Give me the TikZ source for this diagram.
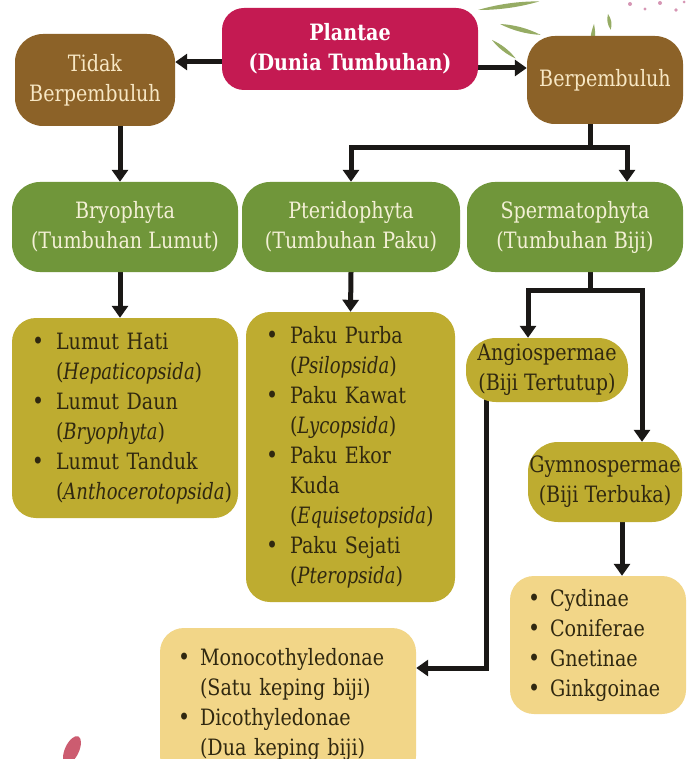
\documentclass[tikz,border=0pt]{standalone}
\usepackage{fontspec}
\setmainfont{DejaVu Serif}[FakeStretch=0.85, ItalicFeatures={FakeStretch=0.8}]
\usetikzlibrary{arrows.meta}

\definecolor{plantred}{RGB}{196,26,82}
\definecolor{barkbrown}{RGB}{140,98,40}
\definecolor{leafgreen}{RGB}{112,150,58}
\definecolor{olivebox}{RGB}{190,172,48}
\definecolor{sandbox}{RGB}{242,214,136}
\definecolor{creamtext}{RGB}{247,231,196}
\definecolor{paletext}{RGB}{244,240,214}
\definecolor{inktext}{RGB}{48,40,16}
\definecolor{arrowink}{RGB}{26,24,22}
\definecolor{willow}{RGB}{150,172,100}
\definecolor{petal}{RGB}{204,92,112}
\definecolor{blossom}{RGB}{214,150,180}

\pgfdeclarelayer{paper}
\pgfdeclarelayer{wires}
\pgfsetlayers{paper,wires,main}

\newcommand\txtsize{\fontsize{22.5}{30}\selectfont}
\newcommand\bul{{\fontsize{24}{24}\selectfont\textbullet}}
% thin willow leaf: start point, angle, length, half width
\newcommand\willowleaf[5]{%
  \fill[willow,shift={(#1,#2)},rotate=#3]
    (0,0) .. controls (#4/3,#5) and (2*#4/3,#5) .. (#4,0)
          .. controls (2*#4/3,-#5) and (#4/3,-#5) .. (0,0);}

\tikzset{
  pill/.style={inner sep=0pt, align=center, font=\txtsize, rounded corners=28pt},
  listbox/.style={inner sep=0pt, align=left, font=\txtsize, text=inktext, rounded corners=24pt},
  conn/.style={draw=arrowink, line width=5pt, line join=miter},
  arr/.style={conn, -{Triangle[width=16pt,length=12pt]}},
}

\begin{document}
\begin{tikzpicture}[x=1pt,y=-1pt]
\useasboundingbox (0,0) rectangle (688,759);
\clip (0,0) rectangle (688,759);
\begin{pgfonlayer}{paper}
  \fill[white] (0,0) rectangle (688,759);
\end{pgfonlayer}

% decoration: willow sprig and blossom specks in the top corner
\willowleaf{478}{10}{8}{62}{3}
\willowleaf{500}{24}{-15}{42}{3}
\willowleaf{492}{40}{-38}{30}{2.5}
\willowleaf{548}{44}{-72}{30}{3}
\willowleaf{563}{42}{-80}{44}{3.5}
\willowleaf{578}{36}{-85}{40}{3}
\willowleaf{594}{24}{-95}{30}{3}
\willowleaf{608}{14}{-80}{16}{2.5}
\fill[blossom] (630,4) circle (2pt) (645,9) circle (1.6pt) (660,3) circle (2pt)
  (676,10) circle (1.8pt) (684,2) circle (1.5pt);
% decoration: petal in the bottom corner
\fill[petal, rotate around={-25:(72,750)}] (72,750) ellipse (7pt and 15pt);

% top level
\node[pill, fill=plantred, text=white, font=\txtsize\bfseries,
      minimum width=256pt, minimum height=82pt, rounded corners=22pt]
      (plantae) at (350,49) {Plantae\\(Dunia Tumbuhan)};
\node[pill, fill=barkbrown, text=creamtext, minimum width=160pt, minimum height=92pt]
      (tidak) at (95,80) {Tidak\\Berpembuluh};
\node[pill, fill=barkbrown, text=creamtext, minimum width=156pt, minimum height=88pt]
      (berp) at (605,80) {Berpembuluh};

% divisions
\node[pill, fill=leafgreen, text=paletext, minimum width=226pt, minimum height=90pt]
      (bryo) at (125,227) {Bryophyta\\(Tumbuhan Lumut)};
\node[pill, fill=leafgreen, text=paletext, minimum width=218pt, minimum height=90pt]
      (pter) at (351,227) {Pteridophyta\\(Tumbuhan Paku)};
\node[pill, fill=leafgreen, text=paletext, minimum width=216pt, minimum height=90pt]
      (sperm) at (575,227) {Spermatophyta\\(Tumbuhan Biji)};

% member lists
\node[listbox, fill=olivebox, minimum width=226pt, minimum height=200pt, text width=186pt]
      (lumut) at (125,418) {\begin{tabular}{@{}p{24pt}@{}l@{}}
        \bul & Lumut Hati\\ & (\textit{Hepaticopsida})\\
        \bul & Lumut Daun\\ & (\textit{Bryophyta})\\
        \bul & Lumut Tanduk\\ & (\textit{Anthocerotopsida})
      \end{tabular}};
\node[listbox, fill=olivebox, minimum width=209pt, minimum height=290pt, text width=169pt]
      (paku) at (350.5,457) {\begin{tabular}{@{}p{24pt}@{}l@{}}
        \bul & Paku Purba\\ & (\textit{Psilopsida})\\
        \bul & Paku Kawat\\ & (\textit{Lycopsida})\\
        \bul & Paku Ekor\\ & Kuda\\ & (\textit{Equisetopsida})\\
        \bul & Paku Sejati\\ & (\textit{Pteropsida})
      \end{tabular}};

% seed plants
\node[pill, fill=olivebox, text=inktext, minimum width=162pt, minimum height=64pt, rounded corners=30pt]
      (angio) at (547,370) {Angiospermae\\(Biji Tertutup)};
\node[pill, fill=olivebox, text=inktext, minimum width=154pt, minimum height=80pt, rounded corners=30pt]
      (gymno) at (605,482) {Gymnospermae\\(Biji Terbuka)};
\node[listbox, fill=sandbox, minimum width=176pt, minimum height=138pt, text width=140pt]
      (gymlist) at (598,645) {\begin{tabular}{@{}p{22pt}@{}l@{}}
        \bul & Cydinae\\ \bul & Coniferae\\ \bul & Gnetinae\\ \bul & Ginkgoinae
      \end{tabular}};
\node[listbox, fill=sandbox, minimum width=256pt, minimum height=152pt, text width=220pt]
      (mono) at (288,704) {\begin{tabular}{@{}p{22pt}@{}l@{}}
        \bul & Monocothyledonae\\ & (Satu keping biji)\\
        \bul & Dicothyledonae\\ & (Dua keping biji)
      \end{tabular}};

% connectors, kept underneath the boxes
\begin{pgfonlayer}{wires}
  \draw[arr] (plantae.west |- 0,62) -- (tidak.east |- 0,62);
  \draw[arr] (plantae.east |- 0,68) -- (berp.west |- 0,68);
  \draw[arr] (tidak.south -| 120,0) -- (bryo.north -| 120,0);
  \coordinate (bj) at (590,148);
  \draw[conn] (berp.south -| bj) -- (bj);
  \draw[arr] (bj) -| (pter.north);
  \draw[arr] (bj) -| (sperm.north -| 627,0);
  \draw[arr] (bryo.south -| 120,0) -- (lumut.north -| 120,0);
  \draw[arr] (pter.south) -- (paku.north);
  \coordinate (sj) at (590,290);
  \draw[conn] (sperm.south -| sj) -- (sj);
  \draw[arr] (sj) -| (angio.north -| 528,0);
  \draw[arr] (sj) -| (gymno.north -| 642,0);
  \draw[arr] (angio.center -| 486,0) |- (mono.east |- 0,668);
  \draw[arr] (gymno.south -| 622,0) -- (gymlist.north -| 622,0);
\end{pgfonlayer}
\end{tikzpicture}
\end{document}
